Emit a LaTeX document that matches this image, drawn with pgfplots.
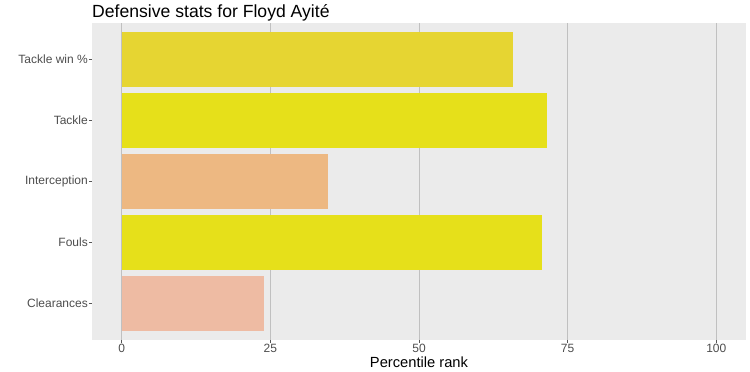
\documentclass[border=0pt]{standalone}
\usepackage{fontspec}
\setmainfont{Liberation Sans}
\usepackage{pgfplots}
\pgfplotsset{compat=1.18}
\definecolor{panel}{HTML}{EBEBEB}
\definecolor{gridgrey}{HTML}{C0C0C0}
\definecolor{tickgrey}{HTML}{555555}
\definecolor{labelgrey}{HTML}{4D4D4D}
\definecolor{cA}{HTML}{E6D532}
\definecolor{cB}{HTML}{E6E01A}
\definecolor{cC}{HTML}{EDB882}
\definecolor{cD}{HTML}{E6E01A}
\definecolor{cE}{HTML}{EEBBA3}
\begin{document}
\begin{tikzpicture}
\useasboundingbox (-92bp,-32bp) rectangle (658bp,340bp);
\begin{axis}[
  at={(0pt,0pt)}, anchor=south west,
  scale only axis, width=654bp, height=317bp,
  xmin=-5, xmax=105, ymin=0.4, ymax=5.6,
  axis background/.style={fill=panel},
  axis line style={draw=none},
  xtick={0,25,50,75,100},
  ytick={1,2,3,4,5},
  yticklabels={Clearances,Fouls,Interception,Tackle,Tackle win \%},
  xmajorgrids, ymajorgrids=false,
  grid style={color=gridgrey, line width=0.8bp},
  tick pos=left,
  tick align=outside, major tick length=3bp,
  tick style={color=tickgrey, line width=0.6bp},
  tick label style={font=\fontsize{12bp}{14bp}\selectfont, text=labelgrey},
  xticklabel style={inner sep=0pt, anchor=north, yshift=-1bp},
  yticklabel style={inner sep=0pt, anchor=east, xshift=-1bp},
  /pgf/number format/assume math mode=true,
  xlabel={Percentile rank},
  xlabel style={at={(axis description cs:0.5,0)}, anchor=base, yshift=-27bp, inner sep=0pt, font=\fontsize{14.7bp}{17bp}\selectfont, text=black},
  title={Defensive stats for Floyd Ayité},
  title style={at={(axis description cs:0,1)}, anchor=base west, yshift=0bp, inner sep=0pt, font=\fontsize{17.6bp}{21bp}\selectfont, text=black},
]
\addplot[xbar, bar shift=0pt, bar width=0.9, fill=cA, draw=none] coordinates {(65.8,5)};
\addplot[xbar, bar shift=0pt, bar width=0.9, fill=cB, draw=none] coordinates {(71.5,4)};
\addplot[xbar, bar shift=0pt, bar width=0.9, fill=cC, draw=none] coordinates {(34.7,3)};
\addplot[xbar, bar shift=0pt, bar width=0.9, fill=cD, draw=none] coordinates {(70.7,2)};
\addplot[xbar, bar shift=0pt, bar width=0.9, fill=cE, draw=none] coordinates {(23.9,1)};
\end{axis}
\end{tikzpicture}
\end{document}
